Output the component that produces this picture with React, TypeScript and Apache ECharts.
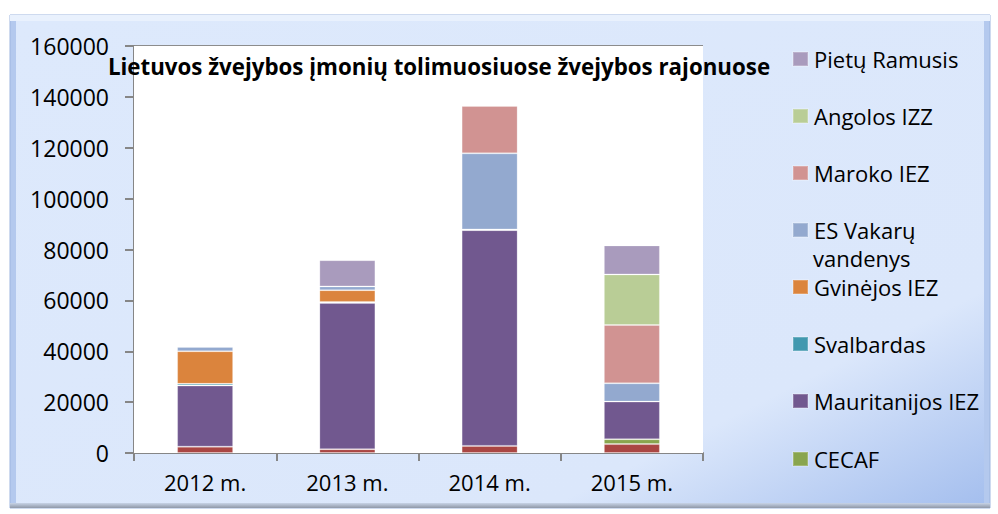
import React, { useEffect, useRef } from "react";
import * as echarts from "echarts";

const categories = ["2012 m.", "2013 m.", "2014 m.", "2015 m."];
const yTicks = { min: 0, max: 160000, interval: 20000 };

// bottom-up stack order
const kitiRajonai = [2500, 1500, 2800, 3500];
const cecaf = [null, null, null, 1900];
const mauritanijosIez = [24000, 57500, 84800, 14800];
const svalbardas = [700, 400, 300, null];
const gvinejosIez = [12800, 4600, null, null];
const esVakaruVandenys = [1700, 1500, 29900, 7200];
const marokoIez = [null, null, 18600, 22900];
const angolosIzz = [null, null, null, 19900];
const pietuRamusis = [null, 10300, null, 11400];

const seriesDefs = [
  { name: "Kiti rajonai", data: kitiRajonai, color: "#aa4643" },
  { name: "CECAF", data: cecaf, color: "#89a54e" },
  { name: "Mauritanijos IEZ", data: mauritanijosIez, color: "#71588f" },
  { name: "Svalbardas", data: svalbardas, color: "#4198af" },
  { name: "Gvinėjos IEZ", data: gvinejosIez, color: "#db843d" },
  { name: "ES Vakarų vandenys", data: esVakaruVandenys, color: "#93a9cf" },
  { name: "Maroko IEZ", data: marokoIez, color: "#d19392" },
  { name: "Angolos IZZ", data: angolosIzz, color: "#b9cd96" },
  { name: "Pietų Ramusis", data: pietuRamusis, color: "#a99bbd" },
];

const legendOrder = [
  "Pietų Ramusis",
  "Angolos IZZ",
  "Maroko IEZ",
  "ES Vakarų vandenys",
  "Gvinėjos IEZ",
  "Svalbardas",
  "Mauritanijos IEZ",
  "CECAF",
];

const title = "Lietuvos žvejybos įmonių tolimuosiuose žvejybos rajonuose";
const FONT = "'Open Sans', sans-serif";

export default function App() {
  const ref = useRef<HTMLDivElement>(null);
  useEffect(() => {
    if (!ref.current) return;
    const chart = echarts.init(ref.current, null, { renderer: "svg" });
    const legendCenters = [59, 116, 173, 230, 287, 344, 401, 459];
    const option: any = {
      animation: false,
      backgroundColor: "#ffffff",
      textStyle: { fontFamily: FONT },
      grid: {
        left: 134,
        top: 46,
        width: 569,
        height: 407,
        show: true,
        backgroundColor: "#ffffff",
        borderWidth: 0,
        z: 1,
      },
      xAxis: {
        type: "category",
        data: categories,
        axisLine: { lineStyle: { color: "#868686", width: 2 } },
        axisTick: { show: true, length: 8, lineStyle: { color: "#868686", width: 2 } },
        axisLabel: { color: "#000", fontSize: 22, fontFamily: FONT, margin: 18 },
      },
      yAxis: {
        type: "value",
        min: yTicks.min,
        max: yTicks.max,
        interval: yTicks.interval,
        axisLine: { show: true, lineStyle: { color: "#868686", width: 2 } },
        axisTick: { show: true, length: 9, lineStyle: { color: "#868686", width: 2 } },
        splitLine: { lineStyle: { color: "#8c8c8c", width: 2 } },
        axisLabel: {
          color: "#000",
          fontSize: 23,
          fontFamily: FONT,
          margin: 25,
          formatter: (v: number) => String(v),
        },
      },
      legend: legendOrder.map((name, i) => ({
        data: [name],
        orient: "vertical",
        left: 792,
        top: legendCenters[i] - 11,
        padding: 0,
        icon: "rect",
        itemWidth: 15,
        itemHeight: 14,
        selectedMode: false,
        formatter: (n: string) => (n === "ES Vakarų vandenys" ? "ES Vakarų" : n),
        textStyle: { color: "#000", fontSize: 22, fontFamily: FONT, padding: [0, 0, 0, 1] },
      })),
      graphic: [
        {
          type: "rect",
          z: -10,
          silent: true,
          shape: { x: 10, y: 15, width: 980, height: 493 },
          style: { fill: "#b4c9ee", stroke: "#9db5df", lineWidth: 1 },
        },
        {
          type: "rect",
          z: -9,
          silent: true,
          shape: { x: 10, y: 503, width: 980, height: 5 },
          style: {
            fill: new echarts.graphic.LinearGradient(0, 0, 0, 1, [
              { offset: 0, color: "#c7d3e6" },
              { offset: 1, color: "#8f98a8" },
            ]),
          },
        },
        {
          type: "rect",
          z: -9,
          silent: true,
          shape: { x: 10, y: 15, width: 980, height: 6 },
          style: { fill: "#e9f1fd" },
        },
        {
          type: "rect",
          z: -8,
          silent: true,
          shape: { x: 16, y: 21, width: 968, height: 482 },
          style: {
            fill: new echarts.graphic.LinearGradient(0, 0, 1, 1, [
              { offset: 0, color: "#dde9fc" },
              { offset: 0.78, color: "#dbe7fb" },
              { offset: 1, color: "#a5bfee" },
            ]),
          },
        },
        {
          type: "text",
          z: 100,
          silent: true,
          x: 439,
          y: 66,
          style: {
            text: title,
            fontFamily: FONT,
            fontWeight: "bold",
            fontSize: 22.3,
            fill: "#000",
            align: "center",
            verticalAlign: "middle",
          },
        },
        {
          type: "text",
          z: 100,
          silent: true,
          x: 813,
          y: 258,
          style: {
            text: "vandenys",
            fontFamily: FONT,
            fontSize: 22,
            fill: "#000",
            align: "left",
            verticalAlign: "middle",
          },
        },
      ],
      series: seriesDefs.map((s) => ({
        name: s.name,
        type: "bar",
        stack: "total",
        barWidth: 56,
        data: s.data,
        itemStyle: { color: s.color, borderColor: "rgba(255,255,255,0.22)", borderWidth: 1 },
      })),
    };
    chart.setOption(option);
    return () => chart.dispose();
  }, []);
  return (
    <div
      ref={ref}
      style={{ position: "absolute", left: 0, top: 0, width: 998, height: 514 }}
    />
  );
}
